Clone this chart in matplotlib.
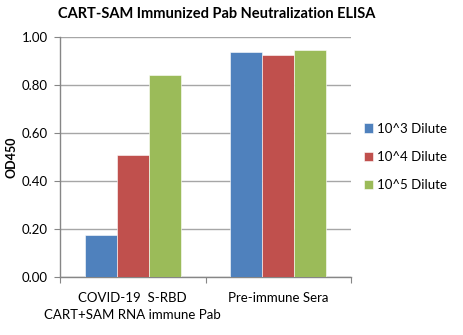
import matplotlib
matplotlib.use("Agg")
import matplotlib.pyplot as plt
import numpy as np

plt.rcParams['font.family'] = ['Lato', 'DejaVu Sans']

categories = ["COVID-19  S-RBD\nCART+SAM RNA immune Pab", "Pre-immune Sera"]
series_names = ["10^3 Dilute", "10^4 Dilute", "10^5 Dilute"]
dil_1e3 = [0.175, 0.937]
dil_1e4 = [0.51, 0.925]
dil_1e5 = [0.84, 0.946]
colors = ["#4F81BD", "#C0504D", "#9BBB59"]
yticks = [0.0, 0.2, 0.4, 0.6, 0.8, 1.0]

fig = plt.figure(figsize=(4.63, 3.35), dpi=100)
ax = fig.add_axes([60/463, 1-277/335, (351-60)/463, (277-37)/335])

x = np.arange(len(categories))
w = 0.22
for i, (vals, name, c) in enumerate(zip([dil_1e3, dil_1e4, dil_1e5], series_names, colors)):
    ax.bar(x + (i-1)*w, vals, width=w, color=c, label=name, edgecolor='white', linewidth=0.4, zorder=3)

ax.set_xlim(-0.5, 1.5)
ax.set_ylim(0, 1.0)
ax.set_yticks(yticks)
ax.set_yticklabels([f"{v:.2f}" for v in yticks], fontsize=9.5)
ax.set_xticks([-0.5, 0.5, 1.5])
ax.set_xticklabels([])
ax.set_xticks(x, minor=True)
ax.set_xticklabels(categories, minor=True, fontsize=9.5, linespacing=1.45)
ax.tick_params(axis='x', which='minor', length=0, pad=11)
ax.tick_params(axis='x', which='major', length=4, color='#868686', direction='out')
ax.tick_params(axis='y', length=4, color='#868686', direction='out', pad=5)
ax.grid(axis='y', color='#A6A6A6', linewidth=1.0, zorder=0)
for s in ['top', 'right']:
    ax.spines[s].set_visible(False)
for s in ['left', 'bottom']:
    ax.spines[s].set_color('#868686')
    ax.spines[s].set_linewidth(1.0)

ax.set_ylabel("OD450", fontsize=9, fontweight='bold')
ax.yaxis.set_label_coords(-43/291, 0.5)
fig.text(217/463, 1-14/335, "CART-SAM Immunized Pab Neutralization ELISA",
         ha='center', va='center', fontsize=10.5, fontweight='bold')

leg = ax.legend(loc='center left', bbox_to_anchor=(1.0, 0.5), frameon=False,
                fontsize=9.5, handlelength=0.7, handleheight=0.7, handletextpad=0.3,
                labelspacing=1.25, borderaxespad=0.6)

fig.savefig("out.png", dpi=100)
